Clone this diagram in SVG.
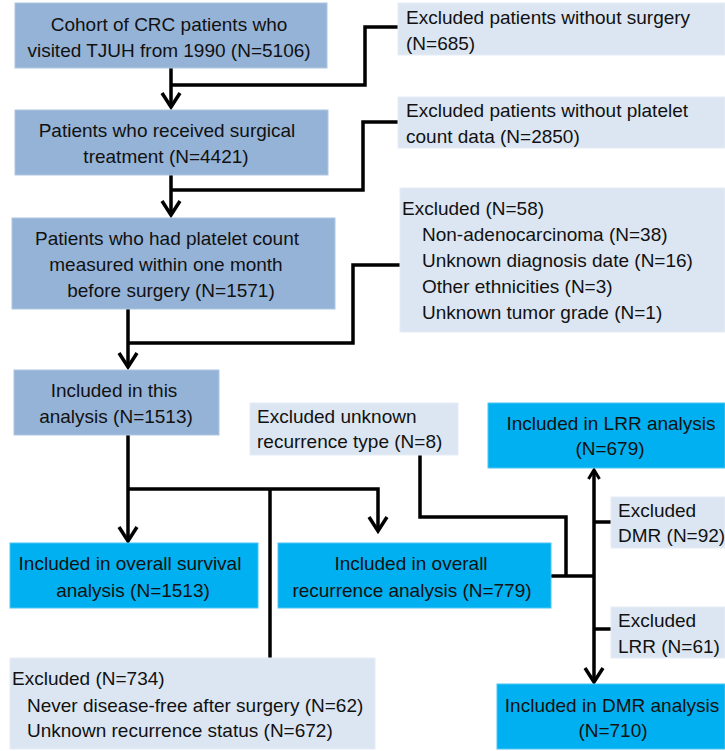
<svg xmlns="http://www.w3.org/2000/svg" width="725" height="751" viewBox="0 0 725 751">
<style>
text{font-family:"Liberation Sans",Arial,sans-serif;font-size:19px;fill:#111}
.main{fill:#95b3d7;stroke:#b0c6e2;stroke-width:1}
.exc{fill:#dce6f2;stroke:#e6edf6;stroke-width:1}
.inc{fill:#00b0f0;stroke:#4cc6f3;stroke-width:1}
.c{text-anchor:middle}
.ln{fill:none;stroke:#000;stroke-width:3.5;stroke-linejoin:miter}
</style>
<defs>
<marker id="ah" markerUnits="userSpaceOnUse" markerWidth="30" markerHeight="30" refX="0" refY="0" viewBox="-20 -15 30 30" orient="auto" overflow="visible">
<path d="M-14,-9 L0,0 L-14,9" fill="none" stroke="#000" stroke-width="3.5"/>
</marker>
<marker id="ahs" markerUnits="userSpaceOnUse" markerWidth="30" markerHeight="30" refX="0" refY="0" viewBox="-20 -15 30 30" orient="auto" overflow="visible">
<path d="M-9,-5.5 L0,0 L-9,5.5" fill="none" stroke="#000" stroke-width="3"/>
</marker>
</defs>
<g id="connectors">
<path class="ln" d="M171,68 V107" marker-end="url(#ah)"/>
<path class="ln" d="M171,85 H365 V27 H399"/>
<path class="ln" d="M171,175 V215" marker-end="url(#ah)"/>
<path class="ln" d="M171,190 H363 V122 H399"/>
<path class="ln" d="M128,309 V367" marker-end="url(#ah)"/>
<path class="ln" d="M128,343 H353 V265 H401"/>
<path class="ln" d="M128,435 V541" marker-end="url(#ah)"/>
<path class="ln" d="M128,489 H378 V531" marker-end="url(#ah)"/>
<path class="ln" d="M270,489 V658"/>
<path class="ln" d="M420,455 V517 H566 V576"/>
<path class="ln" d="M551,576 H594"/>
<path class="ln" d="M594,576 V470" marker-end="url(#ahs)"/>
<path class="ln" d="M594,576 V682" marker-end="url(#ah)"/>
<path class="ln" d="M594,522 H611"/>
<path class="ln" d="M594,629 H611"/>
</g>
<g id="cohort">
<rect class="main" x="15" y="3" width="312" height="65"/>
<text class="c" x="169" y="31">Cohort of CRC patients who</text>
<text class="c" x="169" y="57">visited TJUH from 1990 (N=5106)</text>
</g>
<g id="surgical">
<rect class="main" x="15" y="110" width="313" height="65"/>
<text class="c" x="167" y="137">Patients who received surgical</text>
<text class="c" x="166" y="163">treatment (N=4421)</text>
</g>
<g id="platelet">
<rect class="main" x="12" y="218" width="323" height="91"/>
<text class="c" x="167" y="245">Patients who had platelet count</text>
<text class="c" x="166" y="271">measured within one month</text>
<text class="c" x="171" y="297">before surgery (N=1571)</text>
</g>
<g id="included">
<rect class="main" x="14" y="370" width="205" height="65"/>
<text class="c" x="114" y="397">Included in this</text>
<text class="c" x="116" y="423">analysis (N=1513)</text>
</g>
<g id="excl-surgery">
<rect class="exc" x="398" y="3" width="327" height="52"/>
<text x="406" y="24">Excluded patients without surgery</text>
<text x="406" y="50">(N=685)</text>
</g>
<g id="excl-platelet">
<rect class="exc" x="398" y="97" width="327" height="51"/>
<text x="406" y="117">Excluded patients without platelet</text>
<text x="406" y="143">count data (N=2850)</text>
</g>
<g id="excl-58">
<rect class="exc" x="400" y="188" width="325" height="144"/>
<text x="402" y="215">Excluded (N=58)</text>
<text x="422" y="241">Non-adenocarcinoma (N=38)</text>
<text x="422" y="267">Unknown diagnosis date (N=16)</text>
<text x="422" y="293">Other ethnicities (N=3)</text>
<text x="422" y="319">Unknown tumor grade (N=1)</text>
</g>
<g id="excl-type">
<rect class="exc" x="250" y="403" width="208" height="52"/>
<text x="257" y="423">Excluded unknown</text>
<text x="257" y="448">recurrence type (N=8)</text>
</g>
<g id="survival">
<rect class="inc" x="10" y="543" width="248" height="65"/>
<text class="c" x="130" y="570">Included in overall survival</text>
<text class="c" x="133" y="597">analysis (N=1513)</text>
</g>
<g id="recurrence">
<rect class="inc" x="278" y="543" width="273" height="65"/>
<text class="c" x="411" y="570">Included in overall</text>
<text class="c" x="412" y="597">recurrence analysis (N=779)</text>
</g>
<g id="excl-734">
<rect class="exc" x="10" y="658" width="365" height="91"/>
<text x="12" y="685">Excluded (N=734)</text>
<text x="27" y="712">Never disease-free after surgery (N=62)</text>
<text x="27" y="737">Unknown recurrence status (N=672)</text>
</g>
<g id="lrr">
<rect class="inc" x="488" y="403" width="237" height="65"/>
<text class="c" x="611" y="430">Included in LRR analysis</text>
<text class="c" x="610" y="455">(N=679)</text>
</g>
<g id="excl-dmr">
<rect class="exc" x="611" y="497" width="114" height="51"/>
<text x="618" y="517">Excluded</text>
<text x="618" y="542">DMR (N=92)</text>
</g>
<g id="excl-lrr">
<rect class="exc" x="611" y="607" width="114" height="51"/>
<text x="618" y="627">Excluded</text>
<text x="618" y="653">LRR (N=61)</text>
</g>
<g id="dmr">
<rect class="inc" x="497" y="684" width="228" height="65"/>
<text class="c" x="612" y="712">Included in DMR analysis</text>
<text class="c" x="613" y="737">(N=710)</text>
</g>
</svg>
